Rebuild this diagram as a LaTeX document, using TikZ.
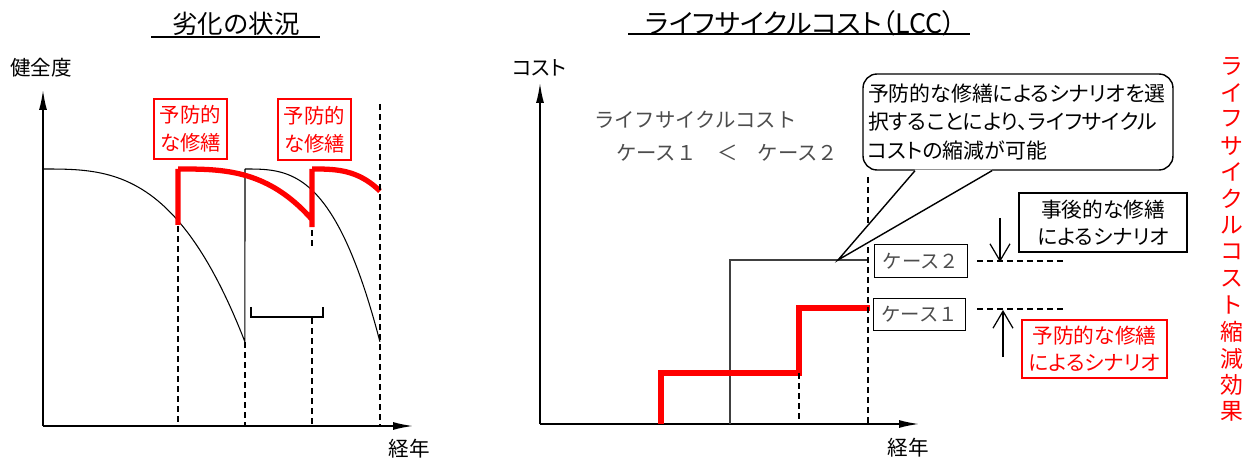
\documentclass[tikz,border=0pt]{standalone}
\usepackage{fontspec}
\setmainfont{Noto Sans CJK JP}
\newfontfamily\propfont{Noto Sans CJK JP}[RawFeature=+palt]
\usepackage{tikz}
\usetikzlibrary{arrows.meta}
\usetikzlibrary{calc, positioning}

\begin{document}
\begin{tikzpicture}[x=0.02cm, y=-0.02cm,
      axis/.style={line width=0.9pt, -{Latex[length=4mm,width=1.6mm]}},
      thinline/.style={line width=0.6pt},
      guide/.style={line width=0.6pt, dash pattern=on 3.4pt off 2.3pt},
      redline/.style={line width=3pt, red},
      greyline/.style={line width=0.7pt, black!75},
      pointer/.style={line width=0.7pt, -{Straight Barb[length=3.4mm,width=4mm]}},
      redlabel/.style={draw=red, text=red, line width=0.6pt, align=center, inner sep=0pt,
        font=\propfont\fontsize{11.6pt}{15.9pt}\selectfont},
      blacklabel/.style={draw, line width=0.7pt, align=center, inner sep=0pt,
        font=\propfont\fontsize{11.8pt}{15.3pt}\selectfont},
      casebox/.style={draw, line width=0.7pt, text=black!70, inner sep=0pt,
        minimum width=1.85cm, minimum height=0.65cm, font=\fontsize{11pt}{13pt}\selectfont},
      axislabel/.style={font=\propfont\fontsize{11.7pt}{14pt}\selectfont},
      titletext/.style={font=\fontsize{14.5pt}{17pt}\selectfont}]

      \useasboundingbox (0,0) rectangle (1258,459);

      % left chart: deterioration
      \node[titletext] (title1) at (236,24) {劣化の状況};
      \draw[line width=0.9pt] (151,37) -- (320,37);
      \node[axislabel] (health) at (41,68) {健全度};
      \coordinate (o1) at (43,426);
      \coordinate (ytop1) at (43,90);
      \coordinate (xend1) at (413,426);
      \draw[axis] (o1) -- (ytop1);
      \draw[axis] (o1) -- (xend1);
      \node[axislabel] (years1) at (409,449) {経年};

      \draw[thinline] plot[domain=0:1, samples=50] ({43+202*\x},{169+173*\x^3})
        -- (245,169)
        plot[domain=0:1, samples=50] ({245+135*\x},{169+173*\x^3});
      \draw[redline] (178,225) -- (178,169)
        plot[domain=0:0.663, samples=40] ({178+202*\x},{169+173*\x^3})
        -- (312,227) -- (312,169)
        plot[domain=0:0.504, samples=30] ({312+135*\x},{169+173*\x^3});

      \draw[guide] (178,226) -- (178,426);
      \draw[guide] (245,342) -- (245,426);
      \draw[guide] (312,230) -- (312,248);
      \draw[guide] (312,318) -- (312,426);
      \draw[guide] (380,104) -- (380,426);
      \draw[thinline] (251,307) -- (251,317) -- (323,317) -- (323,307);

      \node[redlabel, minimum width=1.46cm, minimum height=1.2cm] (repair1) at (190.5,129) {予防的\\な修繕};
      \node[redlabel, minimum width=1.46cm, minimum height=1.22cm] (repair2) at (314.5,129.5) {予防的\\な修繕};

      % right chart: life cycle cost
      \node[titletext, font=\propfont\fontsize{15.3pt}{18pt}\selectfont] (title2) at (801,23) {ライフサイクルコスト（LCC）};
      \draw[line width=0.9pt] (628,34) -- (970,34);
      \node[axislabel] (cost) at (539,68) {コスト};
      \coordinate (o2) at (540,424);
      \coordinate (ytop2) at (540,83);
      \coordinate (xend2) at (919,424);
      \draw[axis] (o2) -- (ytop2);
      \draw[axis] (o2) -- (xend2);
      \node[axislabel] (years2) at (908,448) {経年};

      \node[text=black!70, font=\fontsize{11.6pt}{14pt}\selectfont, anchor=west] (lcc) at (588,120) {ライフサイクルコスト};
      \node[text=black!70, font=\fontsize{11.6pt}{14pt}\selectfont, anchor=west] (compare) at (610,153) {ケース１　＜　ケース２};

      \coordinate (tip) at (838,260);
      \draw[greyline] (730,424) -- (730,260) -- (868,260);
      \draw[redline] (661,424) -- (661,373) -- (799,373) -- (799,308) -- (870,308);
      \draw[guide] (799,373) -- (799,424);
      \draw[guide] (868,177) -- (868,424);

      \node[draw, line width=0.8pt, rounded corners=0.28cm, minimum width=6.2cm, minimum height=1.92cm,
        text width=6cm, align=left, inner sep=0pt, font=\propfont\fontsize{11.9pt}{16.2pt}\selectfont]
        (note) at (1018,122) {予防的な修繕によるシナリオを選\\択することにより、ライフサイクル\\コストの縮減が可能};
      \fill[white] ($(note.south)+(-103,-1)$) -- (tip) -- ($(note.south)+(-26,-1)$) -- cycle;
      \draw[line width=0.8pt] ($(note.south)+(-103,0)$) -- (tip) -- ($(note.south)+(-26,0)$);

      \node[casebox] (case2) at (921,261) {ケース２};
      \node[casebox] (case1) at (919.5,314.5) {ケース１};
      \draw[guide] (977,261) -- (1067,261);
      \draw[guide] (977,309) -- (1067,309);

      \node[blacklabel, minimum width=3.36cm, minimum height=1.18cm] (post) at (1103,222.5) {事後的な修繕\\によるシナリオ};
      \node[redlabel, minimum width=2.9cm, minimum height=1.16cm, font=\propfont\fontsize{11.8pt}{15.3pt}\selectfont] (prev) at (1094.5,349) {予防的な修繕\\によるシナリオ};

      \coordinate (downfrom) at (1000,218);
      \coordinate (downto) at (1000,262);
      \coordinate (upfrom) at (1003,357);
      \coordinate (upto) at (1003,310);
      \draw[pointer] (downfrom) -- (downto);
      \draw[pointer] (upfrom) -- (upto);

      % vertical caption
      \foreach \ch [count=\i from 0] in {ラ,イ,フ,サ,イ,ク,ル,コ,ス,ト,縮,減,効,果}
        \node[text=red, font=\fontsize{13pt}{15pt}\selectfont] (effect\i) at (1232,{66+26.6*\i}) {\ch};
\end{tikzpicture}
\end{document}
